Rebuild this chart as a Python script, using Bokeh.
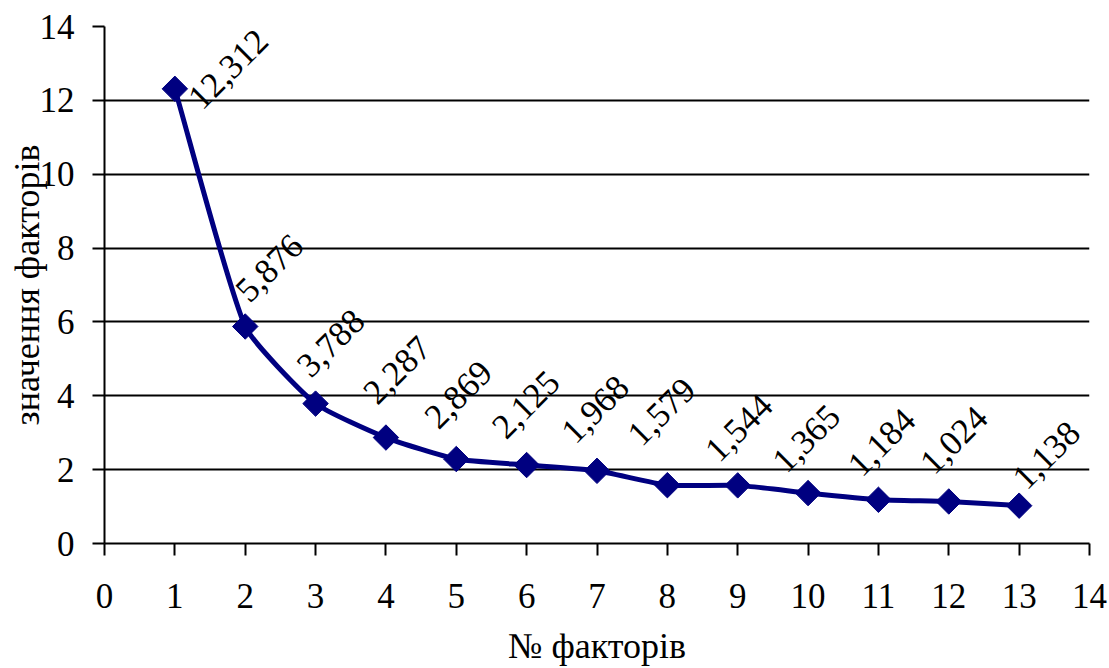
import numpy as np
from bokeh.plotting import figure
from bokeh.models import ColumnDataSource, FixedTicker
from bokeh.core.properties import value
from bokeh.embed import file_html
from bokeh.resources import INLINE

# ---- data ----
factor_no = [1, 2, 3, 4, 5, 6, 7, 8, 9, 10, 11, 12, 13]
factor_values = [12.312, 5.876, 3.788, 2.869, 2.287, 2.125, 1.968, 1.579, 1.574, 1.365, 1.184, 1.138, 1.024]
label_texts = ["12,312", "5,876", "3,788", "2,287", "2,869", "2,125", "1,968",
               "1,579", "1,544", "1,365", "1,184", "1,024", "1,138"]
x_ticks = list(range(0, 15))
y_ticks = list(range(0, 15, 2))

# label placement offsets in screen pixels (style)
label_dx = [19, -4, -13, -17, -26, -29, -30, -34, -27, -30, -25, -23, -1]
label_dy = [14, -31, -33, -40, -37, -33, -34, -46, -30, -27, -30, -34, -23]

FONT = "Liberation Serif"
NAVY = "#000080"
W, H = 1109, 668
BL, BR, BT, BB = 104, 20, 26, 124

p = figure(width=W, height=H, output_backend="svg", toolbar_location=None,
           x_range=(0, 14), y_range=(0, 14),
           min_border_left=BL, min_border_right=BR, min_border_top=BT, min_border_bottom=BB)
p.outline_line_color = None
p.background_fill_color = "white"
p.border_fill_color = "white"

# smoothed line: Bezier segments with control points derived from the data
sx = (W - BL - BR) / 14.0
sy = (H - BT - BB) / 14.0
xs = np.array(factor_no, dtype=float)
ys = np.array(factor_values, dtype=float)
n = len(xs)
seg = np.hypot(np.diff(xs) * sx, np.diff(ys) * sy)
k = 1.0 / 6.0
tx = np.zeros(n); ty = np.zeros(n)
lout = np.zeros(n); lin = np.zeros(n)
for i in range(n):
    a = max(i - 1, 0); b = min(i + 1, n - 1)
    tx[i] = xs[b] - xs[a]; ty[i] = ys[b] - ys[a]
    dprev = seg[i - 1] if i > 0 else 0.0
    dnext = seg[i] if i < n - 1 else 0.0
    tot = dprev + dnext
    lout[i] = k * dnext / tot
    lin[i] = k * dprev / tot
cx0 = xs[:-1] + tx[:-1] * lout[:-1]
cy0 = ys[:-1] + ty[:-1] * lout[:-1]
cx1 = xs[1:] - tx[1:] * lin[1:]
cy1 = ys[1:] - ty[1:] * lin[1:]
p.bezier(x0=xs[:-1], y0=ys[:-1], x1=xs[1:], y1=ys[1:], cx0=cx0, cy0=cy0, cx1=cx1, cy1=cy1,
         line_color=NAVY, line_width=5)

src = ColumnDataSource(dict(x=factor_no, y=factor_values, t=label_texts,
                            dx=label_dx, dy=label_dy))
p.scatter("x", "y", source=src, marker="square", size=18, angle=np.pi / 4,
          fill_color=NAVY, line_color=NAVY)
p.text("x", "y", text="t", source=src, angle=np.pi / 4, x_offset="dx", y_offset="dy",
       text_font=value(FONT), text_font_size="35px", text_color="black",
       text_align="left", text_baseline="alphabetic")

for ax in (p.xaxis[0], p.yaxis[0]):
    ax.axis_line_color = "black"
    ax.axis_line_width = 2
    ax.major_tick_line_color = "black"
    ax.major_tick_line_width = 2
    ax.major_tick_out = 12
    ax.major_tick_in = 0
    ax.minor_tick_line_color = None
    ax.major_label_text_font = FONT
    ax.major_label_text_font_size = "35px"
    ax.major_label_text_color = "black"
    ax.axis_label_text_font = FONT
    ax.axis_label_text_font_size = "36px"
    ax.axis_label_text_font_style = "normal"
    ax.axis_label_text_color = "black"

p.xaxis.ticker = FixedTicker(ticks=x_ticks)
p.yaxis.ticker = FixedTicker(ticks=y_ticks)
p.xaxis.axis_label = "№ факторів"
p.yaxis.axis_label = "значення факторів"
p.xaxis.major_label_standoff = 28
p.xaxis.axis_label_standoff = 15
p.yaxis.major_label_standoff = 18
p.yaxis.axis_label_standoff = -10

p.xgrid.grid_line_color = None
p.ygrid.grid_line_color = "black"
p.ygrid.grid_line_width = 2
p.ygrid.ticker = FixedTicker(ticks=y_ticks)

open("out.html", "w").write(file_html(p, INLINE))
